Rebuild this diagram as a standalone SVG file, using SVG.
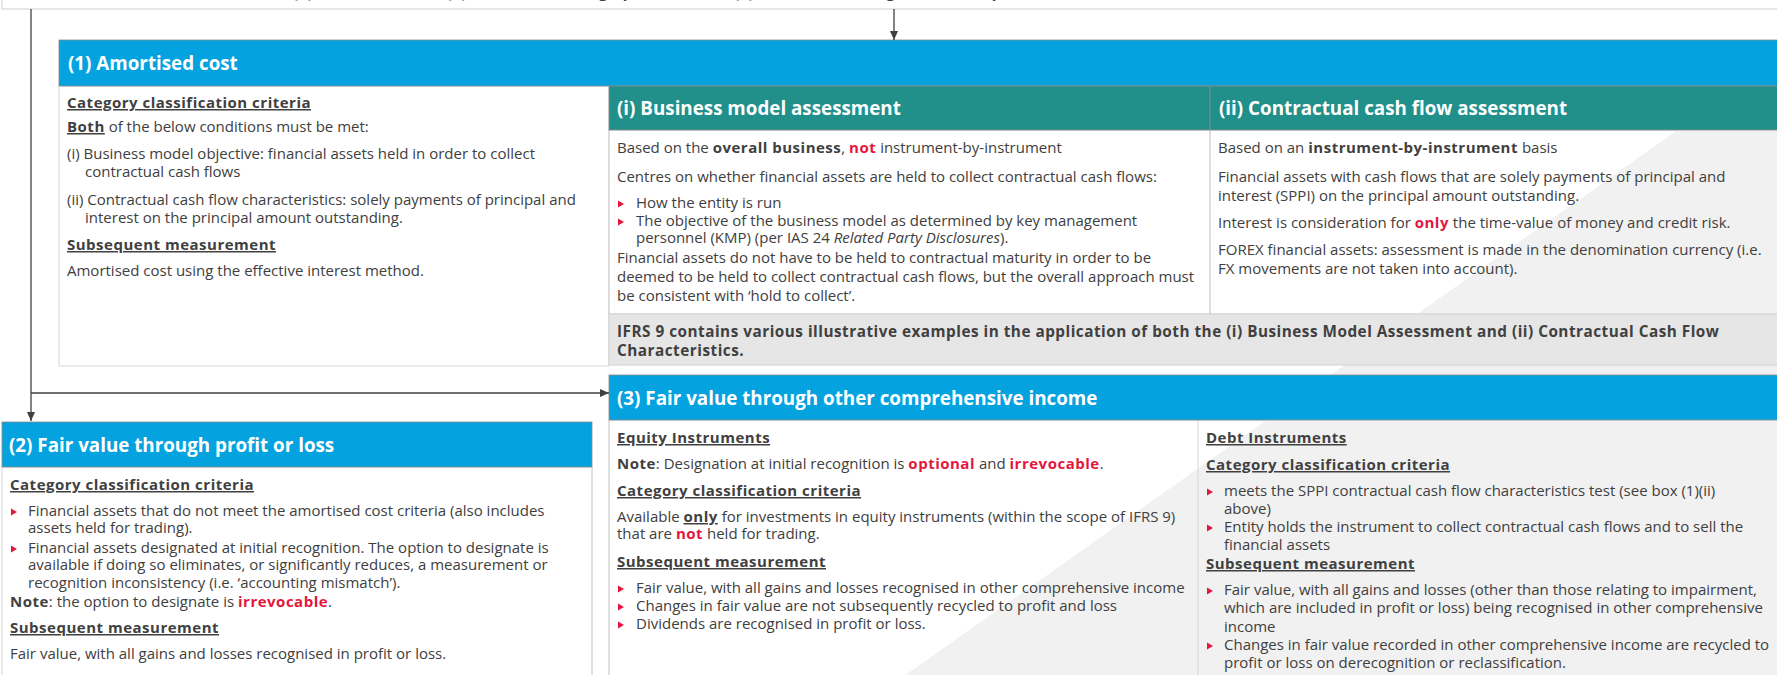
<svg xmlns="http://www.w3.org/2000/svg" width="1777" height="675" viewBox="0 0 1777 675">
<style>
.t{font-family:"Open Sans","Liberation Sans",sans-serif;font-size:15px;fill:#404040}
.b{font-weight:700;letter-spacing:0.5px}
.r{font-weight:700;letter-spacing:0.5px;fill:#E3173E}
.u{text-decoration:underline}
.i{font-style:italic}
.bt{font-size:15.3px}
.h{font-family:"Open Sans","Liberation Sans",sans-serif;font-size:18.8px;font-weight:700;fill:#ffffff}
.box{fill:#ffffff;stroke:#d6d6d6;stroke-width:1}
.blue{fill:#04A3E0;stroke:#8a8a8a;stroke-width:0.8}
.teal{fill:#218F8A;stroke:#8a8a8a;stroke-width:0.8}
.band{fill:#e6e6e6;stroke:#d0d0d0;stroke-width:1}
.ln{stroke:#404040;stroke-width:1.3;fill:none}
</style>
<defs>
<marker id="ah" markerWidth="10" markerHeight="10" refX="9" refY="5" orient="auto" markerUnits="userSpaceOnUse">
<path d="M0,1 L9,5 L0,9 Z" fill="#404040"/>
</marker>
<path id="bl" d="M0,-3.5 L6,0 L0,3.5 Z" fill="#E3173E"/>
</defs>
<rect width="1777" height="675" fill="#ffffff"/>

<g id="top">
<rect x="2" y="-20" width="1790" height="29" fill="#ffffff" stroke="#cfcfcf" stroke-width="1"/>
<text class="t b" x="293" y="-2">(1) Amortised cost, (2) Fair value through profit or loss, (3) Fair value through other comprehensive income</text>
</g>

<g id="fills">
<rect class="box" x="59" y="86" width="550" height="280"/>
<rect class="box" x="609" y="130" width="601" height="184"/>
<rect class="box" x="1210" y="130" width="580" height="184"/>
<rect class="box" x="2" y="467" width="590" height="230"/>
<rect class="box" x="609" y="420" width="1180" height="270"/>
</g>
<polygon points="1862,0 2000,0 2000,700 870,700" fill="#f1f1f1"/>
<g id="borders" fill="none" stroke="#d6d6d6" stroke-width="1">
<line x1="1210" y1="130" x2="1210" y2="314"/>
<line x1="1198" y1="420" x2="1198" y2="690"/>
<line x1="609" y1="130" x2="609" y2="314"/>
<line x1="609" y1="420" x2="609" y2="690"/>
<line x1="592" y1="467" x2="592" y2="690"/>
</g>

<g id="amortised-cost">
<rect class="blue" x="59" y="40" width="1730" height="46"/>
<text class="h" x="68" y="70">(1) Amortised cost</text>
<text class="t b u" x="67" y="108">Category classification criteria</text>
<text class="t" x="67" y="132"><tspan class="b u">Both</tspan> of the below conditions must be met:</text>
<text class="t" x="67" y="159">(i) Business model objective: financial assets held in order to collect</text>
<text class="t" x="85" y="177">contractual cash flows</text>
<text class="t" x="67" y="205">(ii) Contractual cash flow characteristics: solely payments of principal and</text>
<text class="t" x="85" y="223">interest on the principal amount outstanding.</text>
<text class="t b u" x="67" y="250">Subsequent measurement</text>
<text class="t" x="67" y="276">Amortised cost using the effective interest method.</text>
</g>

<g id="business-model">
<rect class="teal" x="609" y="86" width="601" height="44"/>
<text class="h" x="617" y="115">(i) Business model assessment</text>
<text class="t" x="617" y="153">Based on the <tspan class="b">overall business</tspan>, <tspan class="r">not</tspan> instrument-by-instrument</text>
<text class="t" x="617" y="182">Centres on whether financial assets are held to collect contractual cash flows:</text>
<use href="#bl" x="618" y="204"/>
<text class="t" x="636" y="208">How the entity is run</text>
<use href="#bl" x="618" y="222"/>
<text class="t" x="636" y="226">The objective of the business model as determined by key management</text>
<text class="t" x="636" y="243">personnel (KMP) (per IAS 24 <tspan class="i">Related Party Disclosures</tspan>).</text>
<text class="t" x="617" y="263">Financial assets do not have to be held to contractual maturity in order to be</text>
<text class="t" x="617" y="282">deemed to be held to collect contractual cash flows, but the overall approach must</text>
<text class="t" x="617" y="301">be consistent with ‘hold to collect’.</text>
</g>

<g id="contractual-cash-flow">
<rect class="teal" x="1210" y="86" width="580" height="44"/>
<text class="h" x="1219" y="115">(ii) Contractual cash flow assessment</text>
<text class="t" x="1218" y="153">Based on an <tspan class="b">instrument-by-instrument</tspan> basis</text>
<text class="t" x="1218" y="182">Financial assets with cash flows that are solely payments of principal and</text>
<text class="t" x="1218" y="201">interest (SPPI) on the principal amount outstanding.</text>
<text class="t" x="1218" y="228">Interest is consideration for <tspan class="r">only</tspan> the time-value of money and credit risk.</text>
<text class="t" x="1218" y="255">FOREX financial assets: assessment is made in the denomination currency (i.e.</text>
<text class="t" x="1218" y="274">FX movements are not taken into account).</text>
</g>

<g id="ifrs9-note">
<rect class="band" x="609" y="314" width="1180" height="51"/>
<text class="t b bt" x="617" y="337">IFRS 9 contains various illustrative examples in the application of both the (i) Business Model Assessment and (ii) Contractual Cash Flow</text>
<text class="t b bt" x="617" y="356">Characteristics.</text>
</g>

<g id="fvoci">
<rect class="blue" x="609" y="375" width="1180" height="45"/>
<text class="h" x="617" y="405">(3) Fair value through other comprehensive income</text>
<text class="t b u" x="617" y="443">Equity Instruments</text>
<text class="t" x="617" y="469"><tspan class="b">Note</tspan>: Designation at initial recognition is <tspan class="r">optional</tspan> and <tspan class="r">irrevocable</tspan>.</text>
<text class="t b u" x="617" y="496">Category classification criteria</text>
<text class="t" x="617" y="522">Available <tspan class="b u">only</tspan> for investments in equity instruments (within the scope of IFRS 9)</text>
<text class="t" x="617" y="539">that are <tspan class="r">not</tspan> held for trading.</text>
<text class="t b u" x="617" y="567">Subsequent measurement</text>
<use href="#bl" x="618" y="589"/>
<text class="t" x="636" y="593">Fair value, with all gains and losses recognised in other comprehensive income</text>
<use href="#bl" x="618" y="607"/>
<text class="t" x="636" y="611">Changes in fair value are not subsequently recycled to profit and loss</text>
<use href="#bl" x="618" y="625"/>
<text class="t" x="636" y="629">Dividends are recognised in profit or loss.</text>

<text class="t b u" x="1206" y="443">Debt Instruments</text>
<text class="t b u" x="1206" y="470">Category classification criteria</text>
<use href="#bl" x="1207" y="492"/>
<text class="t" x="1224" y="496">meets the SPPI contractual cash flow characteristics test (see box (1)(ii)</text>
<text class="t" x="1224" y="514">above)</text>
<use href="#bl" x="1207" y="528"/>
<text class="t" x="1224" y="532">Entity holds the instrument to collect contractual cash flows and to sell the</text>
<text class="t" x="1224" y="550">financial assets</text>
<text class="t b u" x="1206" y="569">Subsequent measurement</text>
<use href="#bl" x="1207" y="591"/>
<text class="t" x="1224" y="595">Fair value, with all gains and losses (other than those relating to impairment,</text>
<text class="t" x="1224" y="613">which are included in profit or loss) being recognised in other comprehensive</text>
<text class="t" x="1224" y="632">income</text>
<use href="#bl" x="1207" y="646"/>
<text class="t" x="1224" y="650">Changes in fair value recorded in other comprehensive income are recycled to</text>
<text class="t" x="1224" y="668">profit or loss on derecognition or reclassification.</text>
</g>

<g id="fvtpl">
<rect class="blue" x="2" y="422" width="590" height="45"/>
<text class="h" x="9" y="452">(2) Fair value through profit or loss</text>
<text class="t b u" x="10" y="490">Category classification criteria</text>
<use href="#bl" x="11" y="512"/>
<text class="t" x="28" y="516">Financial assets that do not meet the amortised cost criteria (also includes</text>
<text class="t" x="28" y="533">assets held for trading).</text>
<use href="#bl" x="11" y="549"/>
<text class="t" x="28" y="553">Financial assets designated at initial recognition. The option to designate is</text>
<text class="t" x="28" y="570">available if doing so eliminates, or significantly reduces, a measurement or</text>
<text class="t" x="28" y="588">recognition inconsistency (i.e. ‘accounting mismatch’).</text>
<text class="t" x="10" y="607"><tspan class="b">Note</tspan>: the option to designate is <tspan class="r">irrevocable</tspan>.</text>
<text class="t b u" x="10" y="633">Subsequent measurement</text>
<text class="t" x="10" y="659">Fair value, with all gains and losses recognised in profit or loss.</text>
</g>

<g id="connectors">
<line class="ln" x1="894" y1="9" x2="894" y2="40" marker-end="url(#ah)"/>
<polyline class="ln" points="31,9 31,421" marker-end="url(#ah)"/>
<line class="ln" x1="31" y1="393" x2="609" y2="393" marker-end="url(#ah)"/>
</g>
</svg>
